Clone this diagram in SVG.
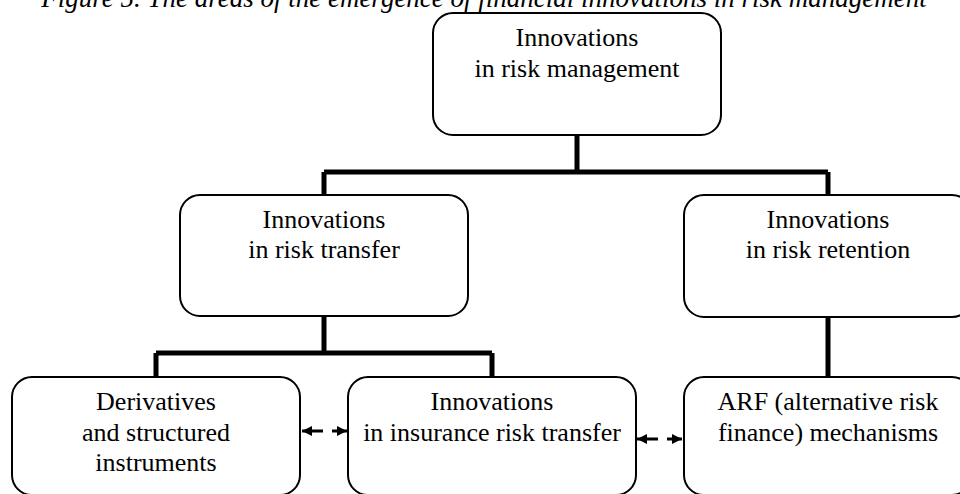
<svg xmlns="http://www.w3.org/2000/svg" width="960" height="494" viewBox="0 0 960 494">
  <style>
    .box { fill: #fff; stroke: #000; stroke-width: 2; }
    .t { font-family: "Liberation Serif", "Times New Roman", serif; font-size: 26px; fill: #000; text-anchor: middle; }
    .title { font-family: "Liberation Serif", "Times New Roman", serif; font-size: 27px; font-style: italic; fill: #000; text-anchor: middle; }
    .conn { fill: none; stroke: #000; stroke-width: 5; }
    .dash { fill: none; stroke: #000; stroke-width: 3; stroke-dasharray: 21 9; }
  </style>
  <defs>
    <marker id="ah" viewBox="0 0 10 10" refX="10" refY="5" markerWidth="10" markerHeight="11" markerUnits="userSpaceOnUse" orient="auto-start-reverse">
      <path d="M0,0 L10,5 L0,10 Z" fill="#000"/>
    </marker>
  </defs>
  <rect width="960" height="494" fill="#fff"/>
  <text class="title" x="484" y="7">Figure 5. The areas of the emergence of financial innovations in risk management</text>

  <g id="connectors">
    <path class="conn" d="M577,135 V172 M324,172 H828 M324,172 V195 M828,172 V195"/>
    <path class="conn" d="M324,316 V353 M156,353 H492 M156,353 V377 M492,353 V377"/>
    <path class="conn" d="M828,317 V377"/>
    <path class="dash" d="M302,431 H347" marker-start="url(#ah)" marker-end="url(#ah)"/>
    <path class="dash" d="M637,439 H682" marker-start="url(#ah)" marker-end="url(#ah)"/>
  </g>

  <g id="n-management">
    <rect class="box" x="433" y="13" width="288" height="122" rx="20"/>
    <text class="t" x="577" y="46">Innovations</text>
    <text class="t" x="577" y="77">in risk management</text>
  </g>
  <g id="n-transfer">
    <rect class="box" x="180" y="195" width="288" height="121" rx="20"/>
    <text class="t" x="324" y="228">Innovations</text>
    <text class="t" x="324" y="258">in risk transfer</text>
  </g>
  <g id="n-retention">
    <rect class="box" x="684" y="195" width="288" height="122" rx="20"/>
    <text class="t" x="828" y="228">Innovations</text>
    <text class="t" x="828" y="258">in risk retention</text>
  </g>
  <g id="n-derivatives">
    <rect class="box" x="12" y="377" width="288" height="118" rx="20"/>
    <text class="t" x="156" y="410">Derivatives</text>
    <text class="t" x="156" y="441">and structured</text>
    <text class="t" x="156" y="471">instruments</text>
  </g>
  <g id="n-insurance">
    <rect class="box" x="348" y="377" width="288" height="118" rx="20"/>
    <text class="t" x="492" y="410">Innovations</text>
    <text class="t" x="492" y="441">in insurance risk transfer</text>
  </g>
  <g id="n-arf">
    <rect class="box" x="684" y="377" width="288" height="118" rx="20"/>
    <text class="t" x="828" y="410">ARF (alternative risk</text>
    <text class="t" x="828" y="441">finance) mechanisms</text>
  </g>
</svg>
